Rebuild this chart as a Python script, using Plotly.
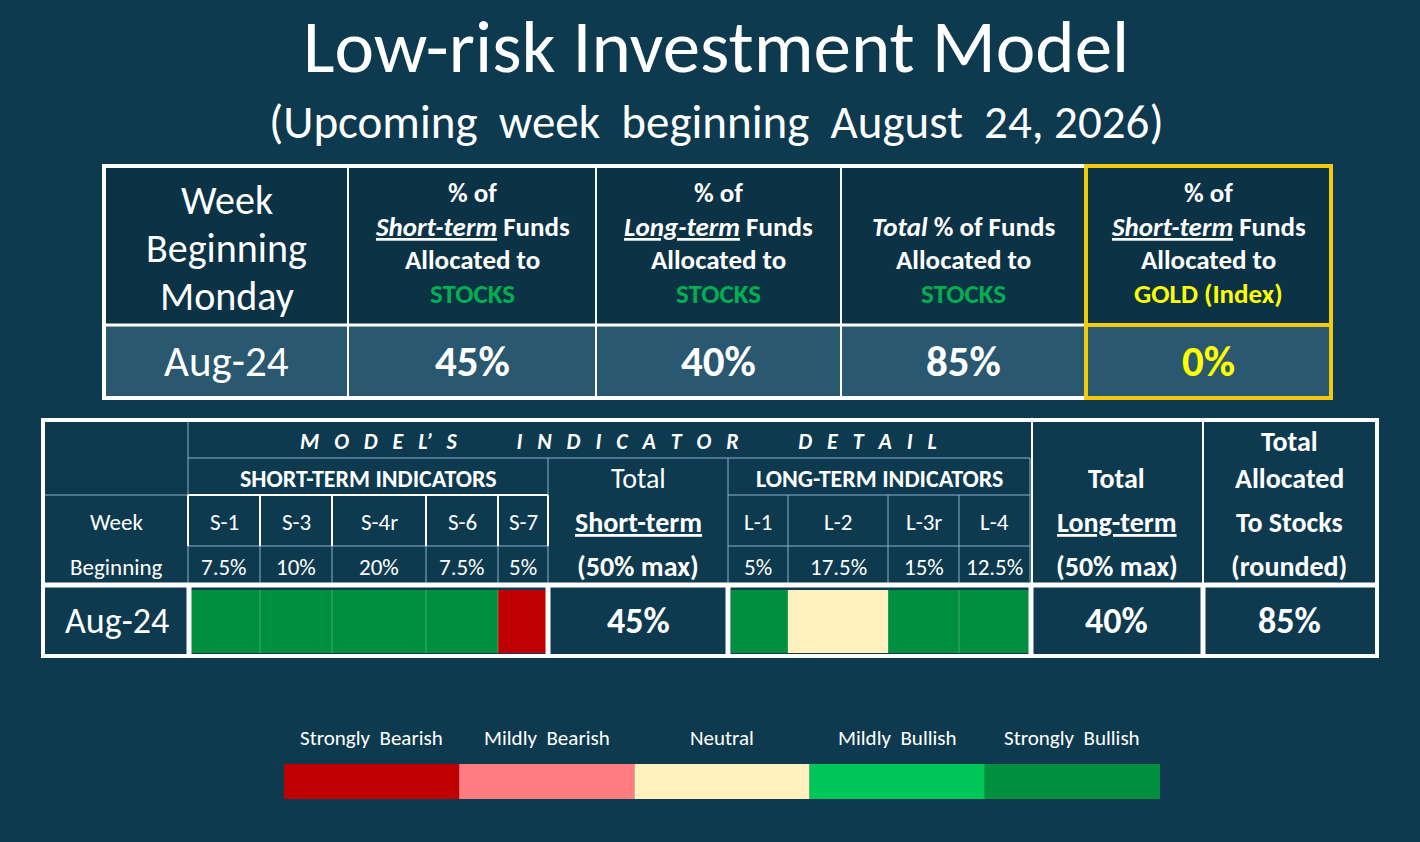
import plotly.graph_objects as go

# ---------------- data ----------------
title = "Low-risk Investment Model"
subtitle = "(Upcoming  week  beginning  August  24, 2026)"
week = "Aug-24"

short_alloc = "45%"
long_alloc = "40%"
total_alloc = "85%"
gold_alloc = "0%"

short_names = ["S-1", "S-3", "S-4r", "S-6", "S-7"]
short_weights = ["7.5%", "10%", "20%", "7.5%", "5%"]
short_signals = ["Strongly Bullish", "Strongly Bullish", "Strongly Bullish", "Strongly Bullish", "Strongly Bearish"]

long_names = ["L-1", "L-2", "L-3r", "L-4"]
long_weights = ["5%", "17.5%", "15%", "12.5%"]
long_signals = ["Strongly Bullish", "Neutral", "Strongly Bullish", "Strongly Bullish"]

legend_levels = ["Strongly Bearish", "Mildly Bearish", "Neutral", "Mildly Bullish", "Strongly Bullish"]
legend_colors = ["#C00000", "#FF7C80", "#FFF2BF", "#00C559", "#008F3E"]

# ---------------- style / layout ----------------
W, H = 1420, 842
BG = "#0d3a4f"
WHITE = "#ffffff"
GOLD = "#F2CC0C"
LBLUE = "#8DAFD0"
GREEN_TXT = "#00B050"
YELLOW_TXT = "#FFFF00"
FONT = "Carlito, Lato, sans-serif"

fig = go.Figure()
shapes = []
annotations = []


def text(x, y, s, size, color=WHITE, bold=False, italic=False):
    if italic:
        s = "<i>" + s + "</i>"
    if bold:
        s = "<b>" + s + "</b>"
    annotations.append(dict(x=x, y=y, xref="x", yref="y", text=s, showarrow=False,
                            xanchor="center", yanchor="middle",
                            font=dict(family=FONT, size=size, color=color)))


def line(x0, y0, x1, y1, color=WHITE, width=2):
    shapes.append(dict(type="line", xref="x", yref="y", x0=x0, y0=y0, x1=x1, y1=y1,
                       layer="above", line=dict(color=color, width=width)))


def rect(x0, y0, x1, y1, fill=None, color=None, width=0):
    d = dict(type="rect", xref="x", yref="y", x0=x0, y0=y0, x1=x1, y1=y1, layer="above")
    d["fillcolor"] = fill if fill else "rgba(0,0,0,0)"
    d["line"] = dict(color=color if color else "rgba(0,0,0,0)", width=width)
    shapes.append(d)


def nb(s):
    return s.replace(" ", "\u00a0")


sig_color = dict(zip(legend_levels, legend_colors))

# ---------------- title ----------------
text(716, 46, title, 75)
text(716, 122, nb(subtitle), 47)

# ---------------- top table ----------------
tx = [105, 348, 596, 841, 1086, 1331]
ty = [167, 325, 397]
rect(tx[0], ty[1], tx[5], ty[2], fill="#2a5870")
rect(tx[0], ty[0], tx[5], ty[1], fill="rgba(0,0,0,0.12)")
for xv in tx[1:4]:
    line(xv, ty[0], xv, ty[2], WHITE, 2)
line(tx[0], ty[1], tx[4], ty[1], WHITE, 3)
rect(tx[0] - 1, ty[0] - 1, tx[4], ty[2] + 1, color=WHITE, width=4)
line(tx[4], ty[1], tx[5], ty[1], GOLD, 4)
rect(tx[4], ty[0] - 1, tx[5], ty[2] + 1, color=GOLD, width=4)

cx = [(tx[i] + tx[i + 1]) / 2 for i in range(5)]
hy = [192, 226, 259, 293]
HS = 27
text(cx[0], 200, "Week", 40)
text(cx[0], 248, "Beginning", 40)
text(cx[0], 296, "Monday", 40)

text(cx[1], hy[0], "% of", HS, bold=True)
text(cx[1], hy[1], "<i><u>Short-term</u></i> Funds", HS, bold=True)
text(cx[1], hy[2], "Allocated to", HS, bold=True)
text(cx[1], hy[3], "STOCKS", HS, GREEN_TXT, bold=True)

text(cx[2], hy[0], "% of", HS, bold=True)
text(cx[2], hy[1], "<i><u>Long-term</u></i> Funds", HS, bold=True)
text(cx[2], hy[2], "Allocated to", HS, bold=True)
text(cx[2], hy[3], "STOCKS", HS, GREEN_TXT, bold=True)

text(cx[3], hy[1], "<i>Total</i> % of Funds", HS, bold=True)
text(cx[3], hy[2], "Allocated to", HS, bold=True)
text(cx[3], hy[3], "STOCKS", HS, GREEN_TXT, bold=True)

text(cx[4], hy[0], "% of", HS, bold=True)
text(cx[4], hy[1], "<i><u>Short-term</u></i> Funds", HS, bold=True)
text(cx[4], hy[2], "Allocated to", HS, bold=True)
text(cx[4], hy[3], "GOLD (Index)", HS, YELLOW_TXT, bold=True)

vy = 361
text(cx[0], vy, week, 43)
text(cx[1], vy, short_alloc, 43, bold=True)
text(cx[2], vy, long_alloc, 43, bold=True)
text(cx[3], vy, total_alloc, 43, bold=True)
text(cx[4], vy, gold_alloc, 43, YELLOW_TXT, bold=True)

# ---------------- bottom table ----------------
bx = [45, 188, 260, 332, 426, 498, 548, 728, 788, 888, 959, 1030, 1203, 1375]
by = [422, 458, 495, 546, 585, 655]
row_y = [590, 653]

# light blue grid in header
line(bx[1], by[0], bx[1], by[4], LBLUE, 1)
line(bx[1], by[1], bx[11], by[1], LBLUE, 1)
line(bx[0], by[2], bx[1], by[2], LBLUE, 1)
line(bx[6], by[1], bx[6], by[4], LBLUE, 1)
line(bx[7], by[1], bx[7], by[4], LBLUE, 1)
line(bx[11], by[1], bx[11], by[4], LBLUE, 1)
line(bx[1], by[3], bx[6], by[3], LBLUE, 1)
for i in range(2, 6):
    line(bx[i], by[3], bx[i], by[4], LBLUE, 1)
line(bx[7], by[2], bx[11], by[2], LBLUE, 1)
line(bx[7], by[3], bx[11], by[3], LBLUE, 1)
for i in range(8, 11):
    line(bx[i], by[2], bx[i], by[4], LBLUE, 1)
# white boxes around short-term indicator names
line(bx[1], by[2], bx[6], by[2], WHITE, 2)
for i in range(1, 7):
    line(bx[i], by[2], bx[i], by[3], WHITE, 2)
# white verticals in header right part
line(bx[11] + 2, by[0], bx[11] + 2, by[4], WHITE, 2)
line(bx[12], by[0], bx[12], by[4], WHITE, 2)

# signal cells
for i, s in enumerate(short_signals):
    rect(bx[1 + i] + (3 if i == 0 else 0), row_y[0], bx[2 + i] - (2 if i == 4 else 0), row_y[1],
         fill=sig_color[s])
for i, s in enumerate(long_signals):
    rect(bx[7 + i] + (3 if i == 0 else 0), row_y[0], bx[8 + i], row_y[1], fill=sig_color[s])
for i in range(2, 6):
    line(bx[i], row_y[0], bx[i], row_y[1], "rgba(255,255,255,0.25)", 1)
for i in range(8, 11):
    line(bx[i], row_y[0], bx[i], row_y[1], "rgba(255,255,255,0.25)", 1)

# white structure of data row
line(bx[0], by[4], bx[13], by[4], WHITE, 5)
for xv in [bx[1] + 1, bx[6], bx[7], bx[11] + 1, bx[12]]:
    line(xv, by[4], xv, by[5], WHITE, 5)
rect(bx[0] - 2, by[0] - 2, bx[13] + 2, by[5] + 1, color=WHITE, width=4)

# header texts
sp = "\u00a0" * 3
wsp = "\u00a0" * 12
detail = wsp.join(sp.join(list(w)) for w in ["MODEL’S", "INDICATOR", "DETAIL"]).replace("L" + sp + "’", "L’")
text(618, 441, detail, 22, bold=True, italic=True)
text((bx[1] + bx[6]) / 2, 478, "SHORT-TERM INDICATORS", 24, bold=True)
text((bx[7] + bx[11]) / 2, 478, "LONG-TERM INDICATORS", 24, bold=True)
c0 = (bx[0] + bx[1]) / 2
text(c0, 522, "Week", 23)
text(c0, 567, "Beginning", 23)
for i, (n, w) in enumerate(zip(short_names, short_weights)):
    c = (bx[1 + i] + bx[2 + i]) / 2
    text(c, 522, n, 23)
    text(c, 567, w, 23)
for i, (n, w) in enumerate(zip(long_names, long_weights)):
    c = (bx[7 + i] + bx[8 + i]) / 2
    text(c, 522, n, 23)
    text(c, 567, w, 23)

TS = 28
cs = (bx[6] + bx[7]) / 2
text(cs, 478, "Total", TS)
text(cs, 522, "<u>Short-term</u>", TS, bold=True)
text(cs, 566, "(50% max)", TS, bold=True)

cl = (bx[11] + bx[12]) / 2
text(cl, 478, "Total", TS, bold=True)
text(cl, 522, "<u>Long-term</u>", TS, bold=True)
text(cl, 566, "(50% max)", TS, bold=True)

ct = (bx[12] + bx[13]) / 2
text(ct, 441, "Total", TS, bold=True)
text(ct, 478, "Allocated", TS, bold=True)
text(ct, 522, "To Stocks", TS, bold=True)
text(ct, 566, "(rounded)", TS, bold=True)

ry = 621
text(c0, ry, week, 36)
text(cs, ry, short_alloc, 36, bold=True)
text(cl, ry, long_alloc, 36, bold=True)
text(ct, ry, total_alloc, 36, bold=True)

# ---------------- legend ----------------
lx0, lx1 = 284, 1160
seg = (lx1 - lx0) / len(legend_levels)
for i, (lv, col) in enumerate(zip(legend_levels, legend_colors)):
    rect(lx0 + i * seg, 764, lx0 + (i + 1) * seg, 799, fill=col)
    text(lx0 + (i + 0.5) * seg, 738, nb(lv.replace(" ", "  ")), 21)

fig.update_layout(
    width=W, height=H,
    margin=dict(l=0, r=0, t=0, b=0),
    paper_bgcolor=BG, plot_bgcolor=BG,
    xaxis=dict(range=[0, W], visible=False, fixedrange=True),
    yaxis=dict(range=[H, 0], visible=False, fixedrange=True),
    showlegend=False,
    shapes=shapes,
    annotations=annotations,
)
fig.write_html("out.html", config={"displayModeBar": False},
               post_script="document.body.style.margin='0';document.body.style.background='" + BG + "';")
